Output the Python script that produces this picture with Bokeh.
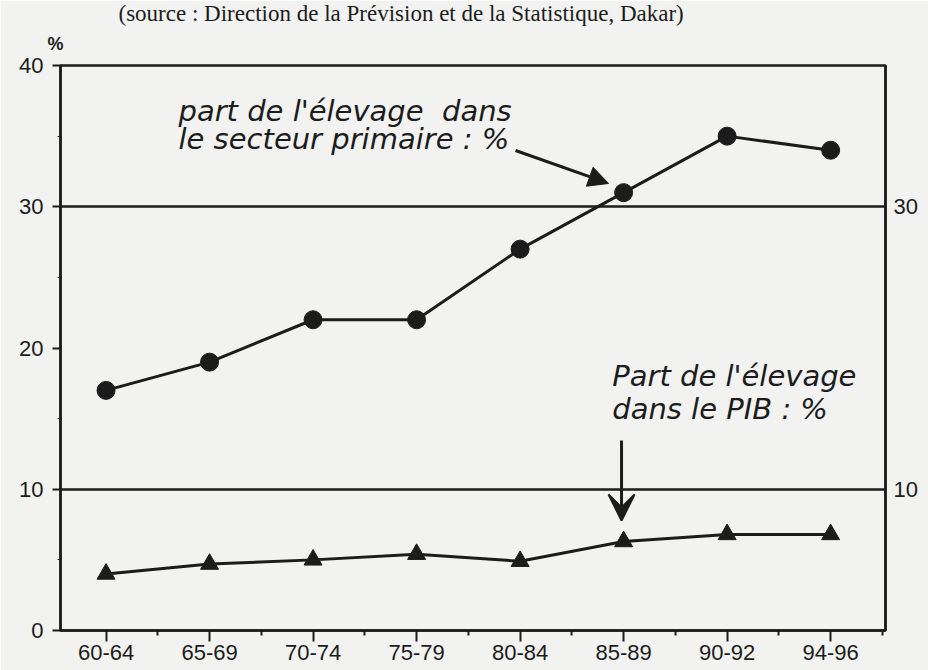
from bokeh.plotting import figure
from bokeh.models import (FixedTicker, LinearAxis, Label, Arrow, VeeHead, NormalHead,
                          ColumnDataSource, Range1d, Title)
from bokeh.embed import file_html
from bokeh.resources import INLINE

# ---- data ----
periods = ["60-64", "65-69", "70-74", "75-79", "80-84", "85-89", "90-92", "94-96"]
part_secteur_primaire = [17, 19, 22, 22, 27, 31, 35, 34]
part_pib = [4.0, 4.7, 5.0, 5.4, 4.9, 6.3, 6.8, 6.8]
y_ticks = [0, 10, 20, 30, 40]
y_minor = [5, 15, 25, 35]
right_ticks = [10, 30]
grid_lines = [10, 30]

source_text = "(source : Direction de la Prévision et de la Statistique, Dakar)"
annot1 = ["part de l'élevage\u00a0 dans", "le secteur primaire : %"]
annot2 = ["Part de l'élevage", "dans le PIB : %"]

INK = "#1c1c1c"
BG = "#f2f2f0"

xpos = list(range(len(periods)))

p = figure(width=928, height=670, output_backend="svg", toolbar_location=None,
           x_range=Range1d(-0.44, 7.53), y_range=Range1d(0, 40),
           min_border_left=60, min_border_right=43, min_border_top=65, min_border_bottom=40)
p.background_fill_color = BG
p.border_fill_color = BG
p.outline_line_color = INK
p.outline_line_width = 2.5

# source line (outer) and "%" unit label (next to the frame)
p.title.text = source_text
p.title.align = "left"
p.title.offset = 58
p.title.standoff = -11
p.title.text_font = "Liberation Serif"
p.title.text_font_size = "23px"
p.title.text_font_style = "normal"
p.title.text_color = INK
p.add_layout(Title(text="%", align="left", offset=-13, standoff=23,
                   text_font="Liberation Sans", text_font_size="18px",
                   text_font_style="bold", text_color=INK), "above")

# x axis
xa = p.xaxis[0]
xa.ticker = FixedTicker(ticks=xpos, minor_ticks=[i + 0.5 for i in range(-1, len(periods))])
xa.major_label_overrides = {i: lab for i, lab in enumerate(periods)}
xa.axis_line_color = INK
xa.axis_line_width = 2.5
xa.major_tick_line_color = INK
xa.major_tick_line_width = 2
xa.major_tick_out = 11
xa.major_tick_in = 0
xa.minor_tick_line_color = INK
xa.minor_tick_line_width = 2
xa.minor_tick_out = 5
xa.minor_tick_in = 0
xa.major_label_standoff = 3
xa.major_label_text_font = "Liberation Sans"
xa.major_label_text_font_size = "22px"
xa.major_label_text_color = INK

# left y axis
ya = p.yaxis[0]
ya.ticker = FixedTicker(ticks=y_ticks, minor_ticks=y_minor)
ya.axis_line_color = INK
ya.axis_line_width = 2.5
ya.major_tick_line_color = INK
ya.major_tick_line_width = 2
ya.major_tick_out = 8
ya.major_tick_in = 0
ya.minor_tick_line_color = INK
ya.minor_tick_out = 3
ya.minor_tick_in = 0
ya.major_label_standoff = 9
ya.major_label_text_font = "Liberation Sans"
ya.major_label_text_font_size = "22px"
ya.major_label_text_color = INK

# right y axis (labels only)
ra = LinearAxis(ticker=FixedTicker(ticks=right_ticks))
ra.axis_line_color = INK
ra.axis_line_width = 2.5
ra.major_tick_out = 0
ra.major_tick_in = 0
ra.minor_tick_out = 0
ra.minor_tick_in = 0
ra.major_label_standoff = 8
ra.major_label_text_font = "Liberation Sans"
ra.major_label_text_font_size = "22px"
ra.major_label_text_color = INK
p.add_layout(ra, "right")

# grid
p.xgrid.visible = False
p.ygrid.ticker = FixedTicker(ticks=grid_lines)
p.ygrid.grid_line_color = INK
p.ygrid.grid_line_width = 2.5

# series
src = ColumnDataSource(dict(x=xpos, a=part_secteur_primaire, b=part_pib))
p.line("x", "a", source=src, line_color=INK, line_width=3)
p.scatter("x", "a", source=src, marker="circle", size=18, fill_color=INK, line_color=INK)
p.line("x", "b", source=src, line_color=INK, line_width=3)
p.scatter("x", "b", source=src, marker="triangle", size=18, fill_color=INK, line_color=INK)

# annotations
for i, line in enumerate(annot1):
    p.add_layout(Label(x=0.70, y=35.6 - 2.0 * i, text=line, text_font="DejaVu Sans",
                       text_font_style="italic", text_font_size="29px", text_color=INK))
for i, line in enumerate(annot2):
    p.add_layout(Label(x=4.89, y=16.78 - 2.27 * i, text=line, text_font="DejaVu Sans",
                       text_font_style="italic", text_font_size="29px", text_color=INK))

p.add_layout(Arrow(x_start=3.956, y_start=33.98, x_end=4.855, y_end=31.65,
                   line_color=INK, line_width=3,
                   end=NormalHead(size=20, fill_color=INK, line_color=INK)))
p.add_layout(Arrow(x_start=4.98, y_start=13.45, x_end=4.98, y_end=7.79,
                   line_color=INK, line_width=3,
                   end=VeeHead(size=26, fill_color=INK, line_color=INK, line_width=2)))

open("out.html", "w").write(file_html(p, INLINE))
